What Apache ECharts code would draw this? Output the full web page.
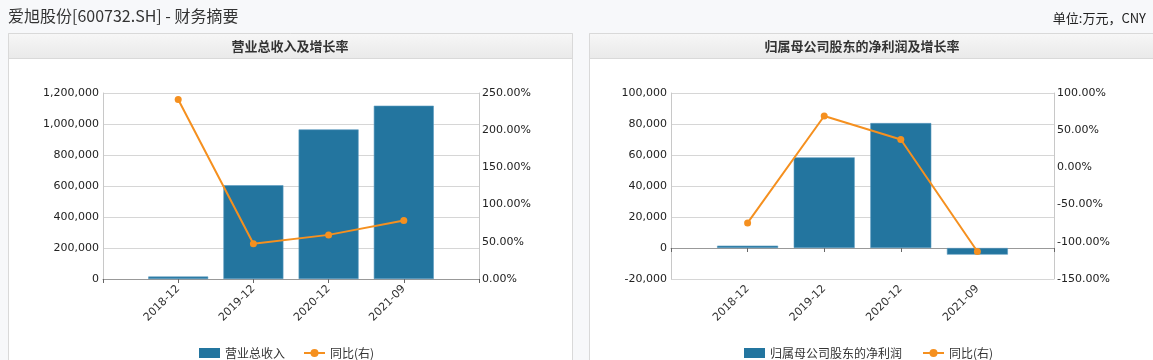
<!DOCTYPE html>
<html><head><meta charset="utf-8">
<script src="https://cdn.jsdelivr.net/npm/echarts@6/dist/echarts.min.js"></script>
<style>html,body{margin:0;padding:0;background:#f7f8fa;}#c{width:1153px;height:360px;}</style>
</head><body><div id="c"></div>
<script>
const categories = ['2018-12', '2019-12', '2020-12', '2021-09'];
const revenue = [16000, 605000, 965000, 1118000];
const revenueYoY = [241.2, 47.3, 59.3, 78.5];
const netProfit = [1500, 58500, 80600, -4300];
const netProfitYoY = [-74.6, 69.1, 37.5, -113.0];
const leftTicksL = {min: 0, max: 1200000, interval: 200000};
const rightTicksL = {min: 0, max: 250, interval: 50};
const leftTicksR = {min: -20000, max: 100000, interval: 20000};
const rightTicksR = {min: -150, max: 100, interval: 50};

const pad = a => [null].concat(a, [null]);
const cats = [''].concat(categories, ['']);
const BAR = '#23759f', ORANGE = '#f5901f';
const FONT = 'DejaVu Sans';
const CJK = '"Noto Sans CJK SC", sans-serif';
const numFmt = v => v.toLocaleString('en-US');
const pctFmt = v => v.toFixed(2) + '%';

function xAxis(gi) {
  return {type: 'category', gridIndex: gi, data: cats, boundaryGap: false,
    axisLine: {lineStyle: {color: '#999'}}, axisTick: {interval: 0, length: 4, lineStyle: {color: '#666'}},
    axisLabel: {interval: 0, rotate: 45, fontSize: 11, fontFamily: FONT, color: '#333', margin: 8}};
}
function yLeft(gi, t) {
  return Object.assign({type: 'value', gridIndex: gi, position: 'left',
    axisLine: {show: true, lineStyle: {color: '#c8c8c8'}}, axisTick: {show: false},
    splitLine: {lineStyle: {color: '#d6d6d6'}},
    axisLabel: {formatter: numFmt, fontSize: 11, fontFamily: FONT, color: '#222', margin: 4}}, t);
}
function yRight(gi, t) {
  return Object.assign({type: 'value', gridIndex: gi, position: 'right',
    axisLine: {show: true, lineStyle: {color: '#c8c8c8'}}, axisTick: {show: false},
    splitLine: {show: false},
    axisLabel: {formatter: pctFmt, fontSize: 11, fontFamily: FONT, color: '#222', margin: 3}}, t);
}
function panel(x, w, title, cx) {
  return [
    {type: 'rect', shape: {x: x + 0.5, y: 33.5, width: w, height: 340}, style: {fill: '#fff', stroke: '#d9d9d9', lineWidth: 1}, z: -10},
    {type: 'rect', shape: {x: x + 0.5, y: 33.5, width: w, height: 25},
      style: {fill: new echarts.graphic.LinearGradient(0, 0, 0, 1, [{offset: 0, color: '#f7f7f7'}, {offset: 1, color: '#e9e9e9'}]), stroke: '#d9d9d9', lineWidth: 1}, z: -9},
    {type: 'text', x: cx, y: 46, style: {text: title, fill: '#333', font: 'bold 13px ' + CJK, textAlign: 'center', textVerticalAlign: 'middle'}, z: -8}
  ];
}
const legendCommon = {top: 342, itemWidth: 21, itemHeight: 10,
  textStyle: {fontSize: 12, fontFamily: CJK, color: '#333'}};

const chart = echarts.init(document.getElementById('c'));
chart.setOption({
  animation: false,
  textStyle: {fontFamily: FONT},
  graphic: [].concat(
    panel(8, 564, '营业总收入及增长率', 290),
    panel(589, 580, '归属母公司股东的净利润及增长率', 862),
    [{type: 'text', x: 8, y: 16, style: {text: '爱旭股份[600732.SH] - 财务摘要', fill: '#333', font: '16px ' + CJK, textVerticalAlign: 'middle'}},
     {type: 'text', x: 1146, y: 18, style: {text: '单位:万元，CNY', fill: '#222', font: '13px ' + CJK, textAlign: 'right', textVerticalAlign: 'middle'}}]
  ),
  grid: [
    {left: 103, top: 93, width: 376, height: 186},
    {left: 671, top: 93, width: 383, height: 186}
  ],
  xAxis: [xAxis(0), xAxis(1)],
  yAxis: [yLeft(0, leftTicksL), yRight(0, rightTicksL), yLeft(1, leftTicksR), yRight(1, rightTicksR)],
  legend: [
    Object.assign({data: [{name: '营业总收入', icon: 'rect', itemStyle: {borderWidth: 0}}, '同比(右)'], left: 194, itemGap: 18}, legendCommon),
    Object.assign({data: [{name: '归属母公司股东的净利润', icon: 'rect', itemStyle: {borderWidth: 0}}, '同比(右) '], left: 739, itemGap: 20}, legendCommon)
  ],
  series: [
    {name: '营业总收入', type: 'bar', xAxisIndex: 0, yAxisIndex: 0, data: pad(revenue), barWidth: 60,
      itemStyle: {color: BAR, borderColor: '#5b9bc0', borderWidth: 0.6}},
    {name: '同比(右)', type: 'line', xAxisIndex: 0, yAxisIndex: 1, data: pad(revenueYoY), symbol: 'circle', symbolSize: 7,
      lineStyle: {color: ORANGE, width: 2}, itemStyle: {color: ORANGE}},
    {name: '归属母公司股东的净利润', type: 'bar', xAxisIndex: 1, yAxisIndex: 2, data: pad(netProfit), barWidth: 61,
      itemStyle: {color: BAR, borderColor: '#5b9bc0', borderWidth: 0.6}},
    {name: '同比(右) ', type: 'line', xAxisIndex: 1, yAxisIndex: 3, data: pad(netProfitYoY), symbol: 'circle', symbolSize: 7,
      lineStyle: {color: ORANGE, width: 2}, itemStyle: {color: ORANGE}}
  ]
});
</script></body></html>
